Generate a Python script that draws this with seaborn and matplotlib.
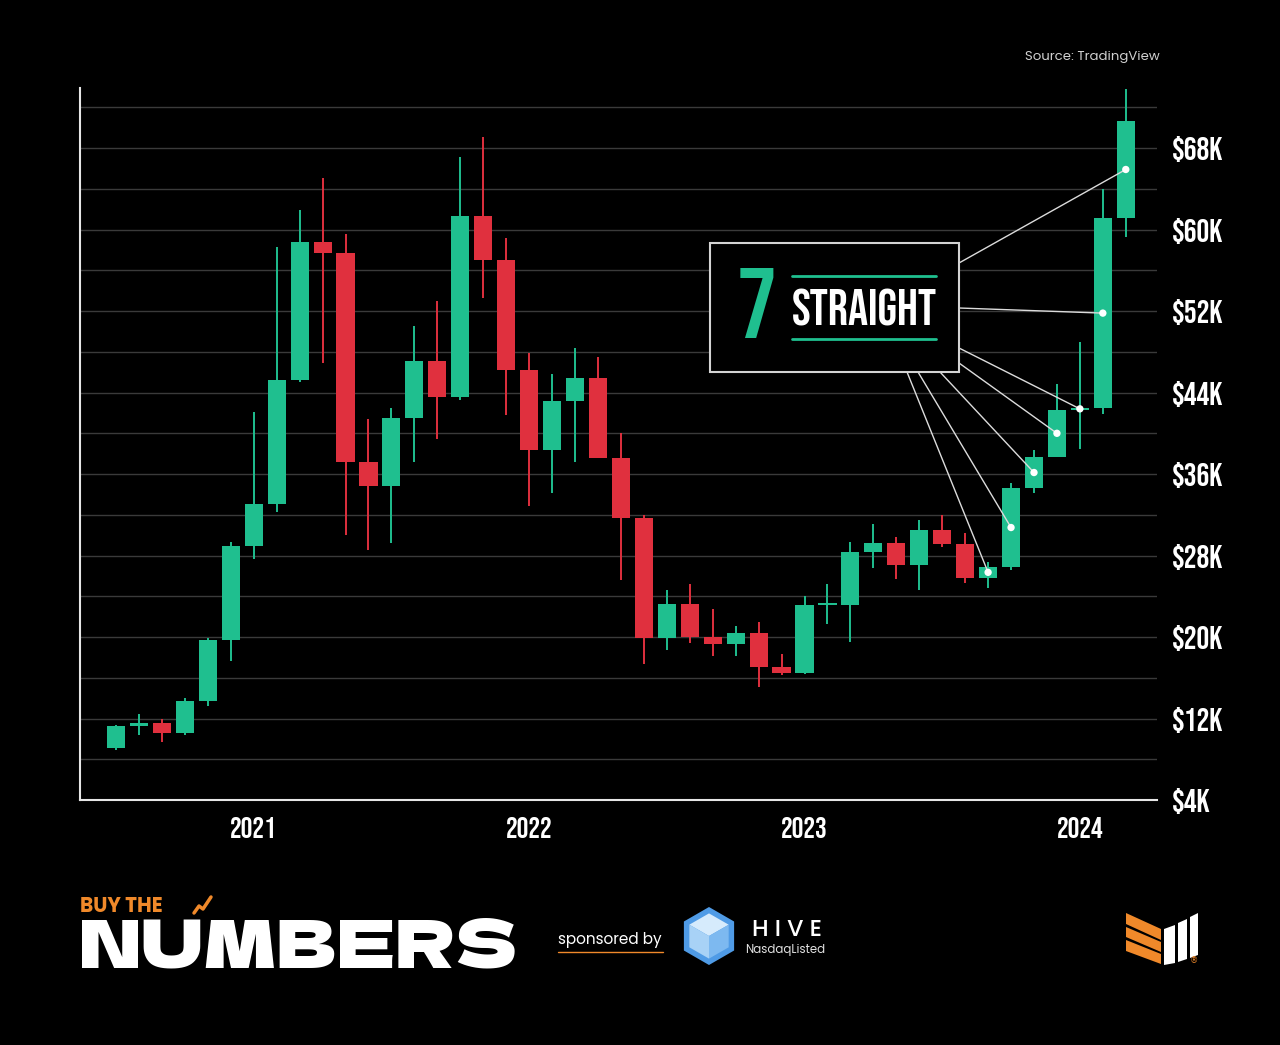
import numpy as np
import pandas as pd
import matplotlib
matplotlib.use('Agg')
import matplotlib.pyplot as plt
import seaborn as sns
from matplotlib import font_manager
from matplotlib.patches import Rectangle, Polygon
from matplotlib.lines import Line2D
from matplotlib.ticker import FixedLocator

# BTC monthly candles, Jul 2020 - Mar 2024 (thousands of USD)
months = pd.date_range('2020-07-01', periods=45, freq='MS')
opens = [9.1, 11.3, 11.55, 10.6, 13.7, 19.7, 28.9, 33.1, 45.2, 58.8, 57.7, 37.2, 34.8, 41.5, 47.1,
         43.6, 61.3, 57.0, 46.2, 38.4, 43.2, 45.4, 37.6, 31.7, 19.9, 23.2, 20.0, 19.3, 20.4, 17.1,
         16.5, 23.1, 23.15, 28.3, 29.2, 27.1, 30.5, 29.1, 25.8, 26.9, 34.6, 37.7, 42.3, 42.5, 61.1]
highs = [11.4, 12.4, 12.0, 14.0, 19.9, 29.3, 42.1, 58.3, 61.9, 65.1, 59.6, 41.4, 42.5, 50.5, 53.0,
         67.1, 69.1, 59.2, 47.9, 45.8, 48.4, 47.5, 40.0, 32.0, 24.6, 25.2, 22.8, 21.1, 21.5, 18.3,
         24.0, 25.2, 29.3, 31.1, 29.8, 31.5, 32.0, 30.2, 27.4, 35.1, 38.4, 44.8, 49.0, 64.0, 73.8]
lows = [8.9, 10.4, 9.7, 10.4, 13.2, 17.6, 27.7, 32.3, 45.0, 46.9, 30.0, 28.5, 29.2, 37.2, 39.4,
        43.3, 53.3, 41.8, 32.9, 34.1, 37.2, 37.6, 25.6, 17.4, 18.7, 19.4, 18.1, 18.1, 15.1, 16.3,
        16.4, 21.3, 19.5, 26.8, 25.7, 24.6, 28.8, 25.3, 24.8, 26.6, 34.1, 40.2, 38.5, 41.9, 59.3]
closes = [11.3, 11.55, 10.6, 13.7, 19.7, 28.9, 33.1, 45.2, 58.8, 57.7, 37.2, 34.8, 41.5, 47.1, 43.6,
          61.3, 57.0, 46.2, 38.4, 43.2, 45.4, 37.6, 31.7, 19.9, 23.2, 20.0, 19.3, 20.4, 17.1, 16.5,
          23.1, 23.15, 28.3, 29.2, 27.1, 30.5, 29.1, 25.8, 26.9, 34.6, 37.7, 42.3, 42.5, 61.1, 70.7]

price_ticks = [4, 12, 20, 28, 36, 44, 52, 60, 68]
grid_ticks = [8, 16, 24, 32, 40, 48, 56, 64, 72]
streak = 7

GREEN = '#1fbf8f'
RED = '#e0303e'
ORANGE = '#f0892a'

W, H = 1280, 1045


def fx(px):
    return px / W


def fy(py):
    return 1 - py / H


def pick(cands, fallback='DejaVu Sans'):
    names = {f.name for f in font_manager.fontManager.ttflist}
    return next((n for n in cands if n in names), fallback)


sns.set_theme(style='dark', rc={'axes.facecolor': 'black', 'figure.facecolor': 'black',
                                'savefig.facecolor': 'black'})

COND = pick(['Bebas Neue', 'Barlow Condensed', 'Roboto Condensed'])
HEAVY = pick(['Dela Gothic One', 'Archivo Black', 'Lato'])
SANS = pick(['Poppins', 'Noto Sans'])
plt.rcParams['font.family'] = [COND, 'DejaVu Sans']

df = pd.DataFrame({'month': months, 'open': opens, 'high': highs, 'low': lows, 'close': closes})
df['i'] = np.arange(len(df))
df['color'] = np.where(df['close'] >= df['open'], GREEN, RED)
df['bottom'] = df[['open', 'close']].min(axis=1)
df['height'] = (df['close'] - df['open']).abs().clip(lower=0.2)

fig = plt.figure(figsize=(12.8, 10.45), dpi=100)
ax = fig.add_axes([fx(80), fy(800), (1157 - 80) / W, (800 - 88) / H])

ax.vlines(df['i'], df['low'], df['high'], colors=df['color'], lw=1.4, zorder=2)
ax.bar(df['i'], df['height'], bottom=df['bottom'], width=0.79, color=df['color'], lw=0, zorder=3)

# white dots on the winning streak
st = df.tail(streak).copy()
st['mid'] = (st['open'] + st['close']) / 2
sns.scatterplot(data=st, x='i', y='mid', color='white', s=28, edgecolor='none', zorder=6, ax=ax,
                legend=False)

ax.set_xlim(-1.57, 45.36)
ax.set_ylim(4, 73.9)
ax.set_xlabel('')
ax.set_ylabel('')

for s in ['top', 'right']:
    ax.spines[s].set_visible(False)
for s in ['left', 'bottom']:
    ax.spines[s].set_visible(True)
    ax.spines[s].set_color('#e6e6e6')
    ax.spines[s].set_linewidth(1.5)

ax.yaxis.tick_right()
ax.set_yticks(price_ticks)
ax.set_yticklabels([f'${v}K' for v in price_ticks])
ax.yaxis.set_minor_locator(FixedLocator(grid_ticks))
ax.grid(False)
ax.grid(True, which='both', axis='y', color='#3a3a3a', lw=1, zorder=0)

jan = df[df['month'].dt.month == 1]
ax.set_xticks(jan['i'])
ax.set_xticklabels(jan['month'].dt.strftime('%Y'))
ax.tick_params(axis='both', which='both', length=0, colors='white')
ax.tick_params(axis='y', pad=11, labelsize=23)
ax.tick_params(axis='x', pad=12, labelsize=21)

# connectors from the callout box to each streak candle
anchors = [(907, 372), (918, 372), (940, 372), (959, 363), (959, 348), (959, 308), (959, 263)]
for (_, r), (apx, apy) in zip(st.iterrows(), anchors):
    ax.annotate('', xy=(r['i'], r['mid']), xycoords='data', xytext=(fx(apx), fy(apy)),
                textcoords='figure fraction', annotation_clip=False,
                arrowprops=dict(arrowstyle='-', color='#dcdcdc', lw=1, shrinkA=0, shrinkB=0),
                zorder=5)

fig.add_artist(Rectangle((fx(710), fy(372)), (959 - 710) / W, (372 - 243) / H,
                         transform=fig.transFigure, facecolor='black', edgecolor='#d4d4d4',
                         lw=1.5, zorder=1))
fig.text(fx(757), fy(303), str(streak), color=GREEN, size=72, ha='center', va='center')
for yy in [276, 339]:
    fig.add_artist(Line2D([fx(792), fx(936)], [fy(yy), fy(yy)], transform=fig.transFigure,
                          color=GREEN, lw=2))
fig.text(fx(864), fy(308), 'STRAIGHT', color='white', size=36, ha='center', va='center')

fig.text(fx(1160), fy(57), 'Source: TradingView', color='#d0d0d0', size=9.5,
         family=[SANS, 'DejaVu Sans'], ha='right', va='center')

# footer branding
fig.text(fx(80), fy(912), 'BUY THE', color=ORANGE, size=14.5, weight='bold',
         family=[SANS, 'DejaVu Sans'], ha='left', va='baseline')
fig.text(fx(79), fy(967), 'NUMBERS', color='white', size=48.5,
         family=[HEAVY, 'DejaVu Sans'], ha='left', va='baseline')
fig.add_artist(Line2D([fx(194), fx(199), fx(203), fx(211)], [fy(913), fy(906), fy(909), fy(897)],
                      transform=fig.transFigure, color=ORANGE, lw=2.5))
fig.text(fx(558), fy(940), 'sponsored by', color='white', size=11,
         family=[SANS, 'DejaVu Sans'], ha='left', va='center')
fig.add_artist(Line2D([fx(558), fx(663)], [fy(952), fy(952)], transform=fig.transFigure,
                      color=ORANGE, lw=1))

cx, cy, rad = 709, 936, 29
ang = np.deg2rad(90 + 60 * np.arange(6))
hexv = [(fx(cx + rad * np.cos(a)), fy(cy - rad * np.sin(a))) for a in ang]
fig.add_artist(Polygon(hexv, closed=True, transform=fig.transFigure, facecolor='#4f9be6', lw=0))
k = rad * 0.78
top_face = [(cx, cy - k), (cx + k * 0.87, cy - k * 0.5), (cx, cy), (cx - k * 0.87, cy - k * 0.5)]
left_face = [(cx - k * 0.87, cy - k * 0.5), (cx, cy), (cx, cy + k), (cx - k * 0.87, cy + k * 0.5)]
right_face = [(cx + k * 0.87, cy - k * 0.5), (cx, cy), (cx, cy + k), (cx + k * 0.87, cy + k * 0.5)]
for face, col in [(top_face, '#d6ebfc'), (left_face, '#a8d2f6'), (right_face, '#7db9f0')]:
    fig.add_artist(Polygon([(fx(a), fy(b)) for a, b in face], closed=True,
                           transform=fig.transFigure, facecolor=col, lw=0))
fig.text(fx(787), fy(930), 'H I V E', color='white', size=17, weight='medium',
         family=[SANS, 'DejaVu Sans'], ha='center', va='center')
fig.text(fx(785), fy(950), 'NasdaqListed', color='#e0e0e0', size=8.5,
         family=[SANS, 'DejaVu Sans'], ha='center', va='center')

stripes = [[(1126, 913), (1161, 929), (1161, 940), (1126, 924)],
           [(1126, 927), (1161, 942), (1161, 952), (1126, 937)],
           [(1126, 940), (1161, 954), (1161, 964), (1126, 951)]]
bars = [[(1164, 929), (1175, 925), (1175, 963), (1164, 965)],
        [(1178, 923), (1187, 919), (1187, 959), (1178, 962)],
        [(1190, 917), (1198, 913), (1198, 955), (1190, 958)]]
for pts in stripes:
    fig.add_artist(Polygon([(fx(a), fy(b)) for a, b in pts], closed=True,
                           transform=fig.transFigure, facecolor=ORANGE, lw=0))
for pts in bars:
    fig.add_artist(Polygon([(fx(a), fy(b)) for a, b in pts], closed=True,
                           transform=fig.transFigure, facecolor='white', lw=0))
fig.text(fx(1194), fy(961), '®', color=ORANGE, size=6, family='DejaVu Sans',
         ha='center', va='center')

fig.savefig('out.png', dpi=100, facecolor='black')
